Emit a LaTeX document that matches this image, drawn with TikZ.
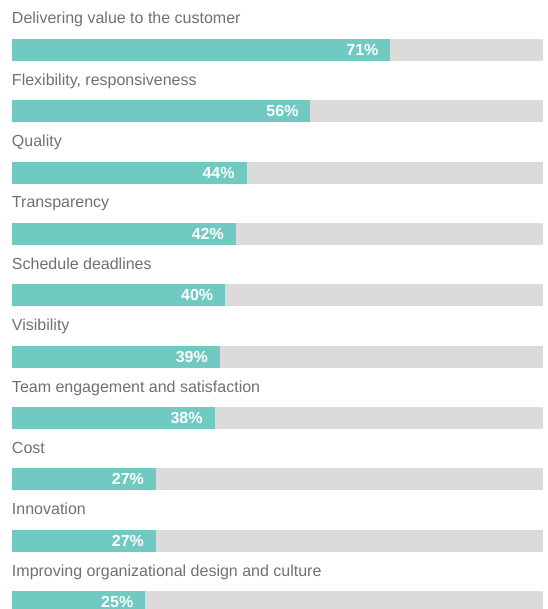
\documentclass[tikz,border=0pt]{standalone}
\usepackage{fontspec}
\setmainfont{Liberation Sans}
\usetikzlibrary{positioning}
\definecolor{barteal}{RGB}{112,202,194}
\definecolor{bargray}{RGB}{221,219,217}
\definecolor{labelgray}{RGB}{112,112,112}

\begin{document}
\begin{tikzpicture}[x=0.75pt, y=-0.75pt,
    every node/.style={inner sep=0pt, outer sep=0pt},
    track/.style={rectangle, fill=bargray, anchor=north west, minimum width=398.25pt, minimum height=16.5pt},
    share/.style={rectangle, fill=barteal, anchor=north west, minimum width=#1*3.9975pt, minimum height=16.5pt},
    caption/.style={anchor=base west, text=labelgray, font=\fontsize{12}{14}\selectfont},
    pct/.style={text=white, font=\bfseries\fontsize{12}{14}\selectfont}]
        \useasboundingbox (0,0) rectangle (548,609);

        %---------------- Row 1 ----------------%
        \node[caption] (L1) at (12,24) {Delivering value to the customer};
        \node[track] (G1) at (12,39) {};
        \node[share=71] (T1) at (12,39) {};
        \node[pct, left=9pt of T1.east] (P1) {71\%};

        %---------------- Row 2 ----------------%
        \node[caption] (L2) at (12,85.3) {Flexibility, responsiveness};
        \node[track] (G2) at (12,100.3) {};
        \node[share=56] (T2) at (12,100.3) {};
        \node[pct, left=9pt of T2.east] (P2) {56\%};

        %---------------- Row 3 ----------------%
        \node[caption] (L3) at (12,146.7) {Quality};
        \node[track] (G3) at (12,161.7) {};
        \node[share=44] (T3) at (12,161.7) {};
        \node[pct, left=9pt of T3.east] (P3) {44\%};

        %---------------- Row 4 ----------------%
        \node[caption] (L4) at (12,208) {Transparency};
        \node[track] (G4) at (12,223) {};
        \node[share=42] (T4) at (12,223) {};
        \node[pct, left=9pt of T4.east] (P4) {42\%};

        %---------------- Row 5 ----------------%
        \node[caption] (L5) at (12,269.3) {Schedule deadlines};
        \node[track] (G5) at (12,284.3) {};
        \node[share=40] (T5) at (12,284.3) {};
        \node[pct, left=9pt of T5.east] (P5) {40\%};

        %---------------- Row 6 ----------------%
        \node[caption] (L6) at (12,330.7) {Visibility};
        \node[track] (G6) at (12,345.7) {};
        \node[share=39] (T6) at (12,345.7) {};
        \node[pct, left=9pt of T6.east] (P6) {39\%};

        %---------------- Row 7 ----------------%
        \node[caption] (L7) at (12,392) {Team engagement and satisfaction};
        \node[track] (G7) at (12,407) {};
        \node[share=38] (T7) at (12,407) {};
        \node[pct, left=9pt of T7.east] (P7) {38\%};

        %---------------- Row 8 ----------------%
        \node[caption] (L8) at (12,453.3) {Cost};
        \node[track] (G8) at (12,468.3) {};
        \node[share=27] (T8) at (12,468.3) {};
        \node[pct, left=9pt of T8.east] (P8) {27\%};

        %---------------- Row 9 ----------------%
        \node[caption] (L9) at (12,514.7) {Innovation};
        \node[track] (G9) at (12,529.7) {};
        \node[share=27] (T9) at (12,529.7) {};
        \node[pct, left=9pt of T9.east] (P9) {27\%};

        %---------------- Row 10 ----------------%
        \node[caption] (L10) at (12,576) {Improving organizational design and culture};
        \node[track] (G10) at (12,591) {};
        \node[share=25] (T10) at (12,591) {};
        \node[pct, left=9pt of T10.east] (P10) {25\%};
    \end{tikzpicture}
\end{document}
